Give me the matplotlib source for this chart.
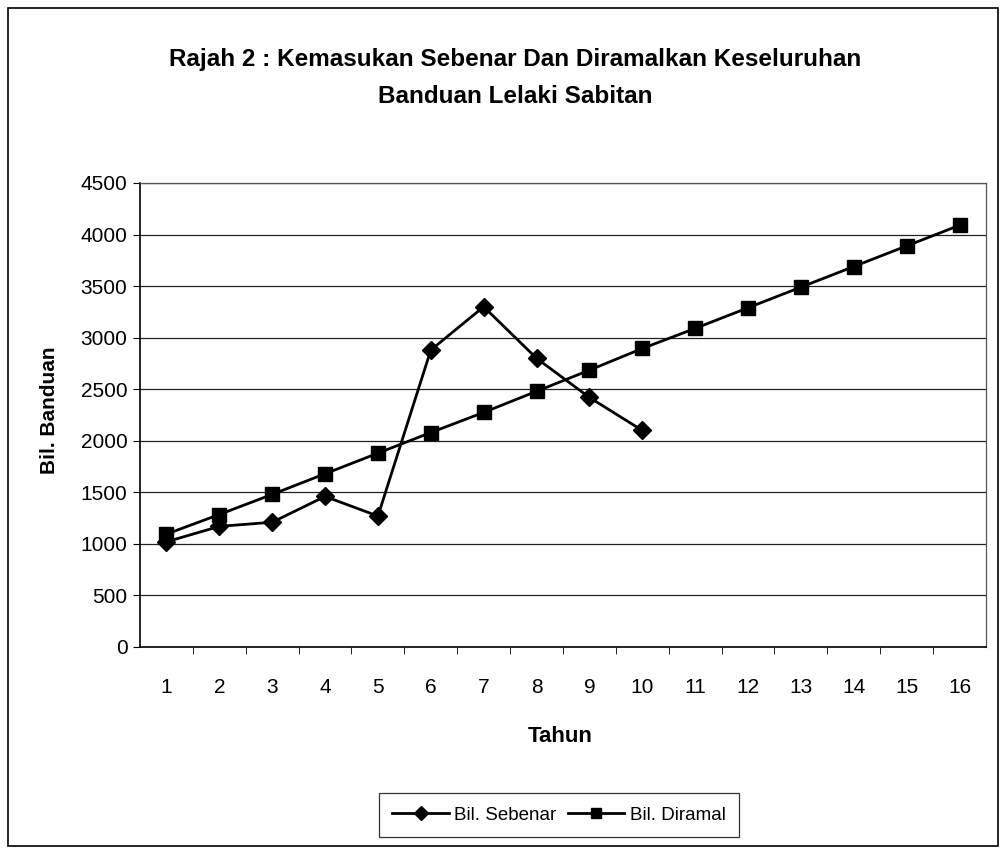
import matplotlib
matplotlib.use("Agg")
import matplotlib.pyplot as plt
from matplotlib.patches import Rectangle

tahun = list(range(1, 17))
sebenar = [1020, 1170, 1210, 1460, 1270, 2880, 3300, 2800, 2420, 2100]
diramal = [1095, 1285, 1480, 1680, 1880, 2080, 2275, 2480, 2685, 2895,
           3090, 3290, 3490, 3690, 3890, 4090]
y_ticks = [0, 500, 1000, 1500, 2000, 2500, 3000, 3500, 4000, 4500]

title = "Rajah 2 : Kemasukan Sebenar Dan Diramalkan Keseluruhan\nBanduan Lelaki Sabitan"
font = "Liberation Sans"

W, H = 1003, 855
fig = plt.figure(figsize=(W / 100, H / 100), dpi=100)
fig.patch.set_facecolor("white")

# outer chart border
fig.add_artist(Rectangle((8 / W, 1 - 846 / H), (998 - 8) / W, (846 - 8) / H,
                         transform=fig.transFigure, fill=False,
                         edgecolor="black", linewidth=1.2))

ax = fig.add_axes([140 / W, 1 - 647 / H, 846 / W, 464 / H])
ax.plot(tahun[:len(sebenar)], sebenar, color="black", linewidth=2.0,
        marker="D", markersize=9.5, label="Bil. Sebenar", zorder=3)
ax.plot(tahun, diramal, color="black", linewidth=2.0,
        marker="s", markersize=10, label="Bil. Diramal", zorder=3)

ax.set_xlim(0.5, 16.5)
ax.set_ylim(0, 4500)
ax.set_yticks(y_ticks)
ax.set_yticklabels([str(v) for v in y_ticks], fontsize=15, family=font)
ax.set_xticks(tahun)
ax.set_xticklabels([str(t) for t in tahun], fontsize=15, family=font)
ax.set_xticks([t + 0.5 for t in tahun[:-1]], minor=True)
ax.tick_params(axis="x", which="major", length=0, pad=22)
ax.tick_params(axis="x", which="minor", length=5, direction="out", color="black")
ax.tick_params(axis="y", which="major", length=5, direction="out", pad=4)
ax.yaxis.grid(True, color="#222222", linewidth=0.9)
ax.set_axisbelow(True)
for side in ["left", "bottom"]:
    ax.spines[side].set_color("black")
    ax.spines[side].set_linewidth(1.2)
for side in ["top", "right"]:
    ax.spines[side].set_color("#555555")
    ax.spines[side].set_linewidth(0.9)

fig.text(515 / W, 1 - 78 / H, title, ha="center", va="center",
         fontsize=17.5, fontweight="bold", family=font, linespacing=1.75)
fig.text(50 / W, 1 - 410 / H, "Bil. Banduan", rotation=90, ha="center", va="center",
         fontsize=15, fontweight="bold", family=font)
fig.text(560 / W, 1 - 736 / H, "Tahun", ha="center", va="center",
         fontsize=16, fontweight="bold", family=font)

leg = fig.legend(loc="center", bbox_to_anchor=(559 / W, 1 - 815 / H), ncol=2,
                 frameon=True, fancybox=False, edgecolor="black",
                 prop={"family": font, "size": 13.5},
                 handlelength=3.0, columnspacing=0.6, handletextpad=0.3,
                 borderpad=0.7, markerscale=0.75)
leg.get_frame().set_linewidth(0.9)

fig.savefig("out.png", dpi=100, facecolor="white")
